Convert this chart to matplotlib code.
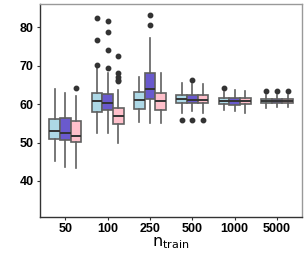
import numpy as np
import matplotlib
matplotlib.use("Agg")
from matplotlib import pyplot as plt

# x categories and the three methods (fill colours)
groups = ["50", "100", "250", "500", "1000", "5000"]
colors = ["#ADD8E6", "#6A5ACD", "#FFC0CB"]

# box statistics per method, one value per group
q1 = [
    [51.0, 57.9, 58.8, 60.2, 60.0, 60.2],
    [50.6, 58.4, 61.4, 60.2, 59.8, 60.2],
    [50.1, 54.8, 58.6, 60.2, 60.0, 60.2],
]
med = [
    [52.9, 60.9, 61.0, 61.4, 60.7, 60.9],
    [52.5, 60.3, 64.0, 61.2, 60.7, 60.8],
    [51.8, 56.9, 60.7, 61.2, 60.7, 60.8],
]
q3 = [
    [56.2, 62.8, 63.1, 62.4, 61.6, 61.4],
    [56.4, 62.6, 68.0, 62.4, 61.6, 61.4],
    [55.5, 59.0, 62.8, 62.4, 61.6, 61.4],
]
whislo = [
    [45.2, 52.5, 55.3, 57.7, 58.6, 59.1],
    [43.7, 52.5, 55.0, 58.1, 58.1, 59.2],
    [43.3, 49.9, 55.1, 57.7, 57.7, 59.2],
]
whishi = [
    [64.0, 69.6, 67.0, 65.6, 63.1, 62.4],
    [62.8, 68.2, 77.2, 65.2, 63.6, 62.4],
    [62.1, 63.8, 68.2, 65.2, 63.5, 62.4],
]
fliers = [
    [[], [70.1, 76.7, 82.4], [], [55.8], [64.2], [63.5]],
    [[], [69.4, 74.2, 78.9, 81.7], [80.5, 83.3], [55.8, 66.4], [], [63.5]],
    [[64.3], [66.0, 66.4, 67.1, 68.0, 72.4], [], [55.8], [], [63.5]],
]

fig, ax = plt.subplots(figsize=(3.07, 2.56), dpi=100)
fig.subplots_adjust(left=0.13, right=0.985, top=0.985, bottom=0.152)

for m in range(3):
    stats = []
    for g in range(len(groups)):
        stats.append(dict(q1=q1[m][g], med=med[m][g], q3=q3[m][g],
                          whislo=whislo[m][g], whishi=whishi[m][g],
                          fliers=fliers[m][g]))
    pos = np.arange(1, len(groups) + 1) + (m - 1) * 0.25
    ax.bxp(stats, positions=pos, widths=0.25, patch_artist=True,
           showcaps=False,
           boxprops=dict(facecolor=colors[m], edgecolor="#606060", linewidth=1.2),
           whiskerprops=dict(color="#606060", linewidth=1.2),
           medianprops=dict(color="#333333", linewidth=1.4),
           flierprops=dict(marker="o", markerfacecolor="#333333",
                           markeredgecolor="#333333", markersize=3.2))

ax.set_xlim(0.4, 6.6)
ax.set_ylim(30.6, 86.1)
ax.set_xticks(np.arange(1, 7))
ax.set_xticklabels(groups)
ax.set_yticks([40, 50, 60, 70, 80])
for lab in ax.get_xticklabels() + ax.get_yticklabels():
    lab.set_fontweight("bold")
    lab.set_fontfamily("Liberation Sans")
ax.tick_params(labelsize=9, length=2.5, width=0.8, color="#333333", pad=2)
ax.set_xlabel(r"$\mathrm{n}_{\mathrm{train}}$", fontsize=11.5, labelpad=0)

ax.spines["left"].set_color("#333333")
ax.spines["bottom"].set_color("#333333")
ax.spines["top"].set_color("#999999")
ax.spines["right"].set_color("#999999")
for s in ax.spines.values():
    s.set_linewidth(1.0)

plt.savefig("out.png")
